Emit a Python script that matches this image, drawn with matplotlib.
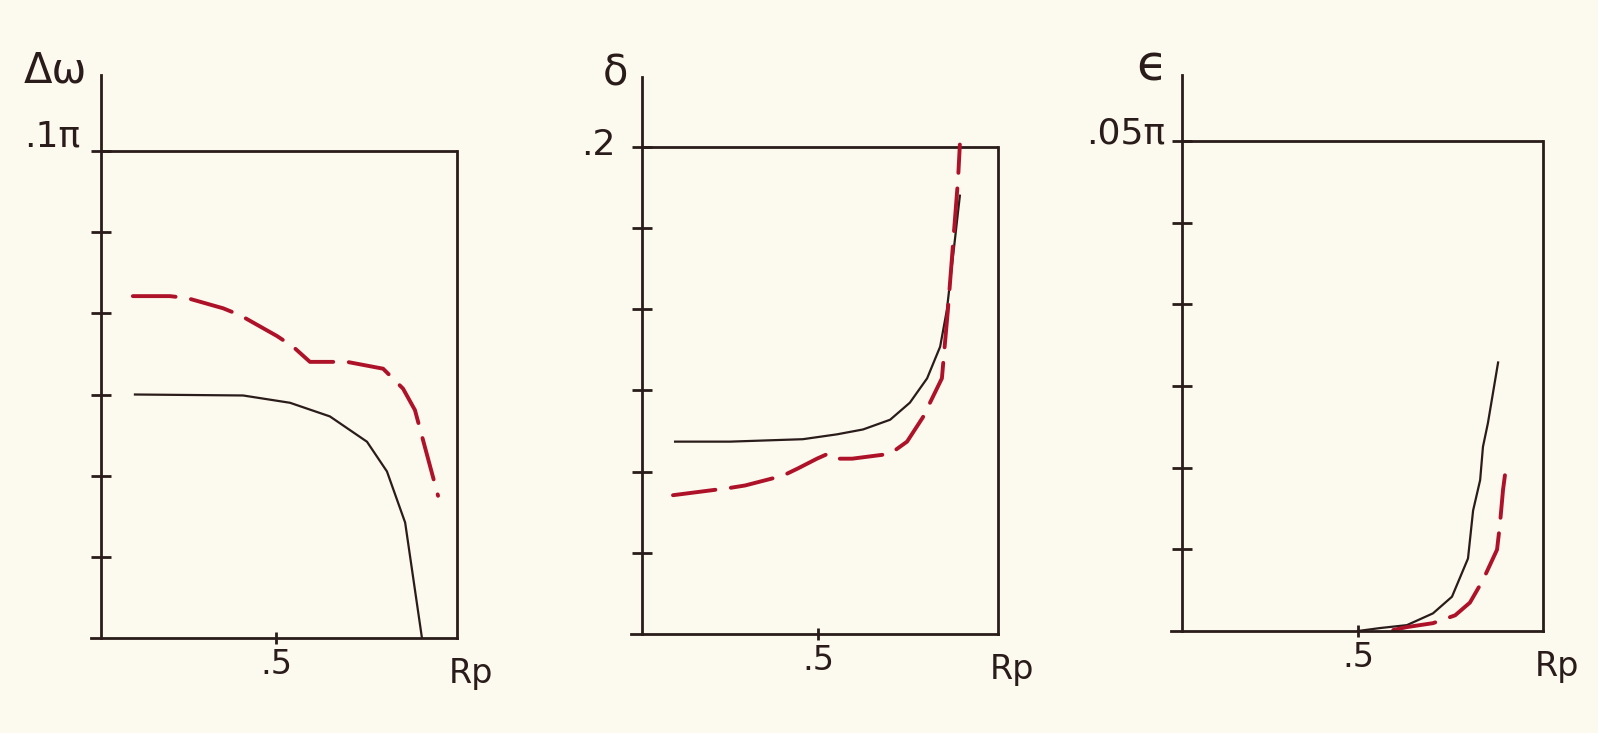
import matplotlib
matplotlib.use("Agg")
import matplotlib.pyplot as plt

# --- data (y in axis units; pi factors in labels) ---
# panel 1: delta omega (units of pi), top = .1 pi
p1_black_x = [0.097, 0.406, 0.54, 0.654, 0.76, 0.817, 0.869, 0.917]
p1_black_y = [0.0500, 0.0498, 0.0483, 0.0455, 0.0403, 0.0342, 0.0237, 0.0]
p1_red_x = [0.091, 0.197, 0.246, 0.349, 0.397, 0.503, 0.549, 0.597, 0.654,
            0.703, 0.806, 0.863, 0.897, 0.963]
p1_red_y = [0.0702, 0.0702, 0.0698, 0.0677, 0.0663, 0.0620, 0.0598, 0.0567,
            0.0567, 0.0567, 0.0553, 0.0512, 0.0468, 0.0292]

# panel 2: delta, top = .2
p2_black_x = [0.094, 0.25, 0.457, 0.554, 0.628, 0.705, 0.761, 0.81, 0.847,
              0.866, 0.889, 0.903]
p2_black_y = [0.079, 0.079, 0.080, 0.082, 0.084, 0.088, 0.095, 0.105, 0.118,
              0.133, 0.162, 0.180]
p2_red_x = [0.088, 0.25, 0.293, 0.40, 0.443, 0.497, 0.528, 0.554, 0.597,
            0.705, 0.753, 0.798, 0.852, 0.861, 0.869, 0.898, 0.903]
p2_red_y = [0.057, 0.060, 0.061, 0.065, 0.068, 0.072, 0.074, 0.072, 0.072,
            0.074, 0.079, 0.089, 0.105, 0.120, 0.133, 0.187, 0.201]

# panel 3: epsilon (units of pi), top = .05 pi
p3_black_x = [0.50, 0.5625, 0.639, 0.713, 0.767, 0.8125, 0.827, 0.847, 0.855,
              0.869, 0.898]
p3_black_y = [0.0, 0.0003, 0.0006, 0.0018, 0.0035, 0.0074, 0.0123, 0.0154,
              0.0188, 0.0212, 0.0274]
p3_red_x = [0.60, 0.639, 0.713, 0.776, 0.818, 0.855, 0.895, 0.903, 0.912, 0.92]
p3_red_y = [0.0001, 0.0004, 0.0008, 0.0016, 0.0029, 0.0052, 0.0083, 0.0108,
            0.0144, 0.0166]

ylabels = ["\u0394\u03c9", "\u03b4", "\u03f5"]
top_labels = [".1\u03c0", ".2", ".05\u03c0"]
top_values = [0.1, 0.2, 0.05]

INK = "#2a1c1a"
RED = "#ae1229"
PAPER = "#fcf9ee"
W, H = 1598, 733

# pixel geometry of each hand-drawn frame: origin x, px per unit x,
# bottom y, frame top y, axis top y, right edge (data)
geom = [
    (101, 350, 638, 151, 75, 1.017),
    (642, 352, 634, 147, 77, 1.01),
    (1182, 352, 631, 141, 75, 1.026),
]
# (x, y as fraction of frame top) for the axis name and the top value
name_pos = [(-0.13, 1.165), (-0.075, 1.15), (-0.085, 1.152)]
name_size = [30, 30, 36]
top_pos = [(-0.058, 1.03), (-0.075, 1.005), (-0.046, 1.015)]

curves = [
    (p1_black_x, p1_black_y, p1_red_x, p1_red_y),
    (p2_black_x, p2_black_y, p2_red_x, p2_red_y),
    (p3_black_x, p3_black_y, p3_red_x, p3_red_y),
]

fig = plt.figure(figsize=(W / 100, H / 100), dpi=100)
fig.patch.set_facecolor(PAPER)

xl = -0.03
for i, (x0, sx, y0, ybox, ytop, xr) in enumerate(geom):
    ymax = top_values[i]
    yext = ymax * (y0 - ytop) / (y0 - ybox)
    left = (x0 + xl * sx) / W
    bottom = (H - y0) / H
    ax = fig.add_axes([left, bottom, (xr - xl) * sx / W, (y0 - ytop) / H])
    ax.set_facecolor("none")
    ax.set_xlim(xl, xr)
    ax.set_ylim(0, yext)

    for s in ["left", "bottom", "right"]:
        ax.spines[s].set_color(INK)
        ax.spines[s].set_linewidth(2.0)
    ax.spines["top"].set_visible(False)
    ax.spines["left"].set_position(("data", 0))
    ax.spines["right"].set_bounds(0, ymax)
    ax.plot([0, xr], [ymax, ymax], color=INK, lw=2.0, clip_on=False,
            solid_capstyle="butt")

    ax.yaxis.set_ticks_position("left")
    ax.xaxis.set_ticks_position("bottom")
    ax.set_yticks([ymax * k / 6 for k in range(1, 7)])
    ax.set_yticklabels([])
    ax.set_xticks([0.5])
    ax.set_xticklabels([".5"])
    ax.tick_params(axis="y", direction="inout", length=14, width=2.0, color=INK)
    ax.tick_params(axis="x", direction="inout", length=9, width=2.0, color=INK,
                   labelsize=24, labelcolor=INK, pad=3)

    tx, ty = top_pos[i]
    ax.text(tx, ymax * ty, top_labels[i], ha="right", va="center",
            fontsize=26, color=INK, clip_on=False)
    lx, ly = name_pos[i]
    ax.text(lx, ymax * ly, ylabels[i], ha="center", va="center",
            fontsize=name_size[i], color=INK, clip_on=False)
    ax.annotate("Rp", xy=(xr + 0.04, 0), xytext=(0, -14),
                textcoords="offset points", ha="center", va="top",
                fontsize=24, color=INK, annotation_clip=False)

    bx, by, rx, ry = curves[i]
    ax.plot(bx, by, color=INK, lw=1.6, solid_joinstyle="round")
    ax.plot(rx, ry, color=RED, lw=2.8, linestyle=(0, (11, 4)),
            dash_capstyle="round")

fig.savefig("out.png", dpi=100, facecolor=PAPER)
